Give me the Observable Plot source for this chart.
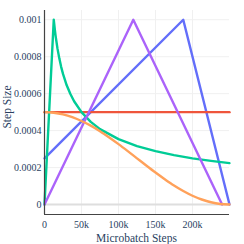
<!DOCTYPE html>
<html>
<head>
<meta charset="utf-8">
<script src="https://cdn.jsdelivr.net/npm/d3@7"></script>
<script src="https://cdn.jsdelivr.net/npm/@observablehq/plot@0.6"></script>
<style>
  html, body { margin: 0; padding: 0; background: #fff; }
</style>
</head>
<body>
<div id="chart"></div>
<script>
// ---- data ----
const blueSteps = [0, 187500, 250000];
const blueValues = [0.00025, 0.001, 0];

const redSteps = [0, 250000];
const redValues = [0.0005, 0.0005];

const greenSteps = [0, 12500, 14000, 15000, 17500, 20000, 22500, 25000, 30000, 35000, 40000, 50000, 62500, 75000, 100000, 125000, 150000, 175000, 200000, 225000, 250000];
const greenValues = [0, 0.001, 0.000945, 0.000913, 0.000845, 0.000791, 0.000745, 0.000707, 0.000645, 0.000598, 0.000559, 0.0005, 0.000447, 0.000408, 0.000354, 0.000316, 0.000289, 0.000267, 0.00025, 0.000236, 0.000224];

const purpleSteps = [0, 120000, 240000];
const purpleValues = [0, 0.001, 0];

const orangeSteps = [0, 12500, 25000, 37500, 50000, 62500, 75000, 87500, 100000, 112500, 125000, 137500, 150000, 162500, 175000, 187500, 200000, 212500, 225000, 237500, 250000];
const orangeValues = [0.0005, 0.000497, 0.000488, 0.000473, 0.000452, 0.000427, 0.000397, 0.000363, 0.000327, 0.000289, 0.00025, 0.000211, 0.000173, 0.000137, 0.000103, 0.0000732, 0.0000476, 0.0000272, 0.0000122, 0.0000031, 0];

const xTicks = [0, 50000, 100000, 150000, 200000];
const xTickLabels = ["0", "50k", "100k", "150k", "200k"];
const yTicks = [0, 0.0002, 0.0004, 0.0006, 0.0008, 0.001];
const yTickLabels = ["0", "0.0002", "0.0004", "0.0006", "0.0008", "0.001"];

const xTitle = "Microbatch Steps";
const yTitle = "Step Size";

const xDomain = [0, 250000];
const yDomain = [-0.000054, 0.00105];

const series = [
  {steps: blueSteps, values: blueValues, color: "#636EFA", curve: "linear"},
  {steps: redSteps, values: redValues, color: "#EF553B", curve: "linear"},
  {steps: greenSteps, values: greenValues, color: "#00CC96", curve: "linear"},
  {steps: purpleSteps, values: purpleValues, color: "#AB63FA", curve: "linear"},
  {steps: orangeSteps, values: orangeValues, color: "#FFA15A", curve: "monotone-x"}
];

const font = "'Liberation Serif', 'DejaVu Serif', serif";
const textColor = "#2a3f5f";

const lineMarks = series.map(s =>
  Plot.line(s.steps.map((t, i) => ({t, v: s.values[i]})), {
    x: "t", y: "v", stroke: s.color, strokeWidth: 2.4, curve: s.curve
  })
);

const chart = Plot.plot({
  width: 244,
  height: 244,
  marginLeft: 44,
  marginRight: 15,
  marginTop: 10,
  marginBottom: 30,
  style: {fontFamily: font, color: textColor, background: "#fff", overflow: "visible"},
  x: {domain: xDomain},
  y: {domain: yDomain},
  marks: [
    Plot.gridX(xTicks, {stroke: "#f0f0f0", strokeOpacity: 1}),
    Plot.gridY(yTicks, {stroke: "#f0f0f0", strokeOpacity: 1}),
    Plot.ruleY([0], {stroke: "#dedede", strokeWidth: 2}),
    ...lineMarks,
    Plot.ruleX([xDomain[0]], {stroke: "#444", strokeWidth: 1.2}),
    Plot.ruleY([yDomain[0]], {stroke: "#444", strokeWidth: 1.2}),
    Plot.axisX(xTicks, {tickSize: 0, tickPadding: 6, fontSize: 10, fill: textColor,
      tickFormat: (d, i) => xTickLabels[xTicks.indexOf(d)], label: null}),
    Plot.axisY(yTicks, {tickSize: 0, tickPadding: 3, fontSize: 10, fill: textColor,
      tickFormat: (d, i) => yTickLabels[yTicks.indexOf(d)], label: null})
  ]
});

const svg = d3.select(chart);
svg.append("text")
  .attr("x", (44 + 229) / 2)
  .attr("y", 242)
  .attr("text-anchor", "middle")
  .attr("font-family", font)
  .attr("font-size", 11.5)
  .attr("fill", textColor)
  .text(xTitle);
svg.append("text")
  .attr("transform", "translate(10.5,107) rotate(-90)")
  .attr("text-anchor", "middle")
  .attr("font-family", font)
  .attr("font-size", 11.5)
  .attr("fill", textColor)
  .text(yTitle);

document.getElementById("chart").appendChild(chart);
</script>
</body>
</html>
